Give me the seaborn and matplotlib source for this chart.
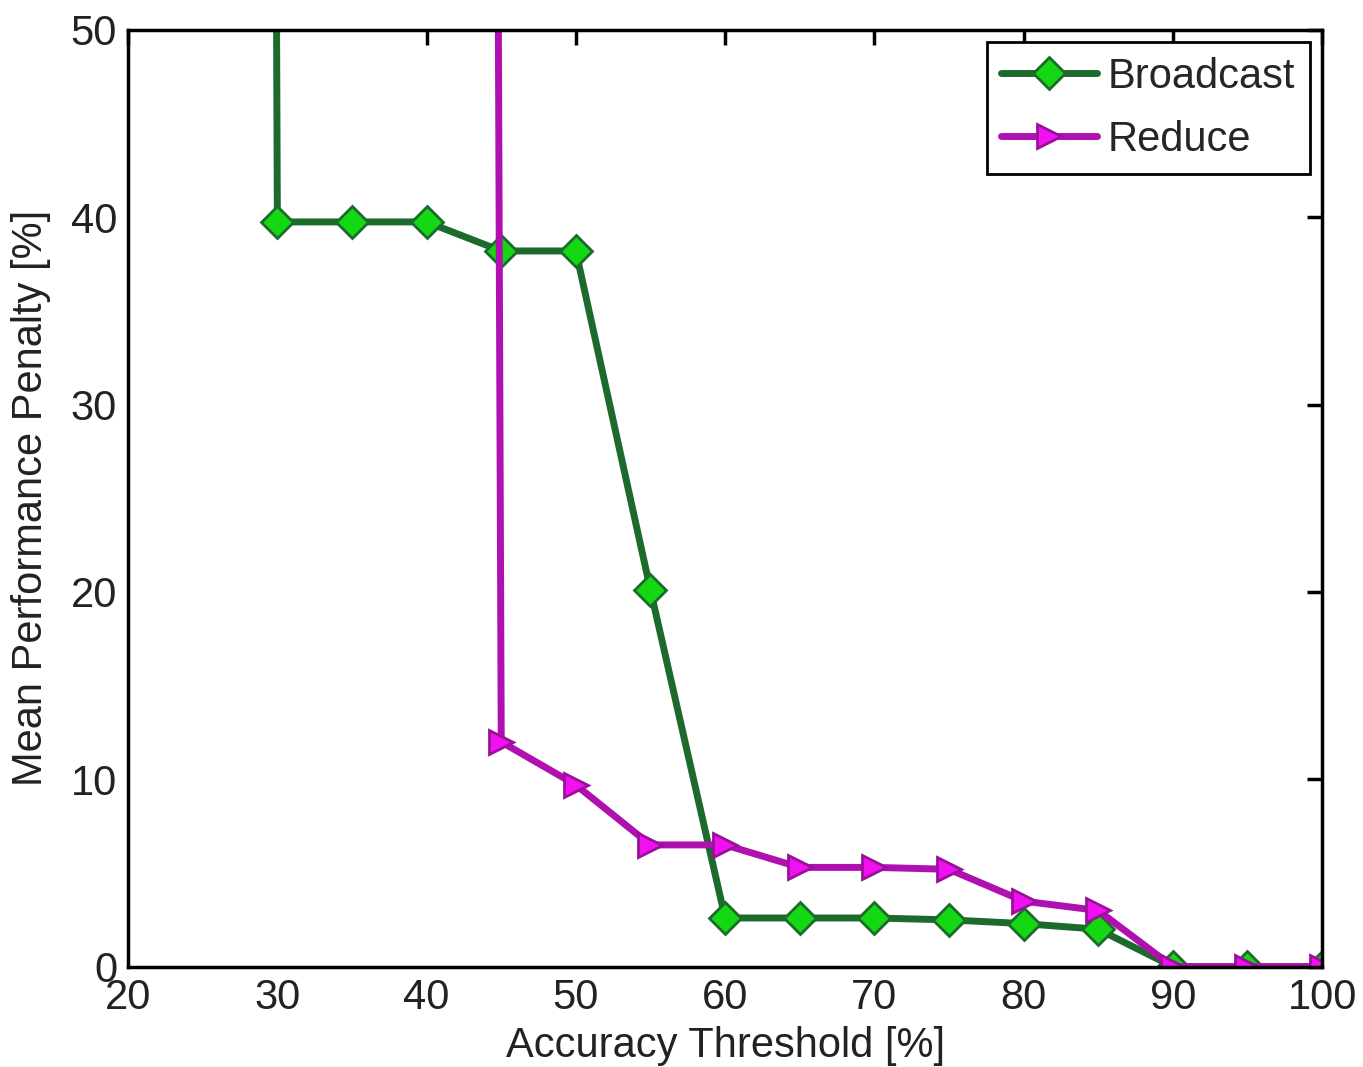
import numpy as np
import pandas as pd
import matplotlib
matplotlib.use("Agg")
import matplotlib.pyplot as plt
import seaborn as sns

# values (points above 50 are off the top of the axes)
bc_x = [25, 30, 35, 40, 45, 50, 55, 60, 65, 70, 75, 80, 85, 90, 95, 100]
bc_y = [1000, 39.75, 39.75, 39.75, 38.2, 38.2, 20.1, 2.6, 2.6, 2.6, 2.5, 2.3, 2.0, 0, 0, 0]

rd_x = [40, 45, 50, 55, 60, 65, 70, 75, 80, 85, 90, 95, 100]
rd_y = [1000, 12.0, 9.7, 6.5, 6.5, 5.3, 5.3, 5.2, 3.5, 3.0, 0, 0, 0]

x_ticks = [20, 30, 40, 50, 60, 70, 80, 90, 100]
y_ticks = [0, 10, 20, 30, 40, 50]

sns.set_theme(style="white")
plt.rcParams['font.family'] = ['Liberation Sans', 'DejaVu Sans']

fig = plt.figure(figsize=(13.63, 10.67), dpi=100)
ax = fig.add_axes([0.094, 0.094, 0.876, 0.878])

sns.lineplot(x=bc_x, y=bc_y, ax=ax, color='#1c6b2c', linewidth=5,
             marker='D', markersize=16, markerfacecolor='#14d814',
             markeredgecolor='#1c6b2c', markeredgewidth=2, label='Broadcast')
sns.lineplot(x=rd_x, y=rd_y, ax=ax, color='#b010b0', linewidth=5,
             marker='>', markersize=17, markerfacecolor='#f010f0',
             markeredgecolor='#9a109a', markeredgewidth=2, label='Reduce')

ax.set_xlim(20, 100)
ax.set_ylim(0, 50)
ax.set_xticks(x_ticks)
ax.set_yticks(y_ticks)
ax.set_xlabel('Accuracy Threshold [%]', fontsize=30, labelpad=6, color='#222222')
ax.set_ylabel('Mean Performance Penalty [%]', fontsize=30, labelpad=14, color='#222222')
ax.tick_params(axis='both', which='major', labelsize=30, direction='in',
               length=11, width=2.5, top=True, right=True, colors='black',
               labelcolor='#222222', pad=8)
for s in ax.spines.values():
    s.set_linewidth(2.5)
    s.set_color('black')

leg = ax.legend(loc='upper right', fontsize=30, frameon=True, fancybox=False,
                edgecolor='black', framealpha=1, borderpad=0.35,
                handlelength=2.3, handletextpad=0.25, labelspacing=0.55,
                borderaxespad=0.3)
leg.get_frame().set_linewidth(2)

fig.savefig('out.png', dpi=100)
